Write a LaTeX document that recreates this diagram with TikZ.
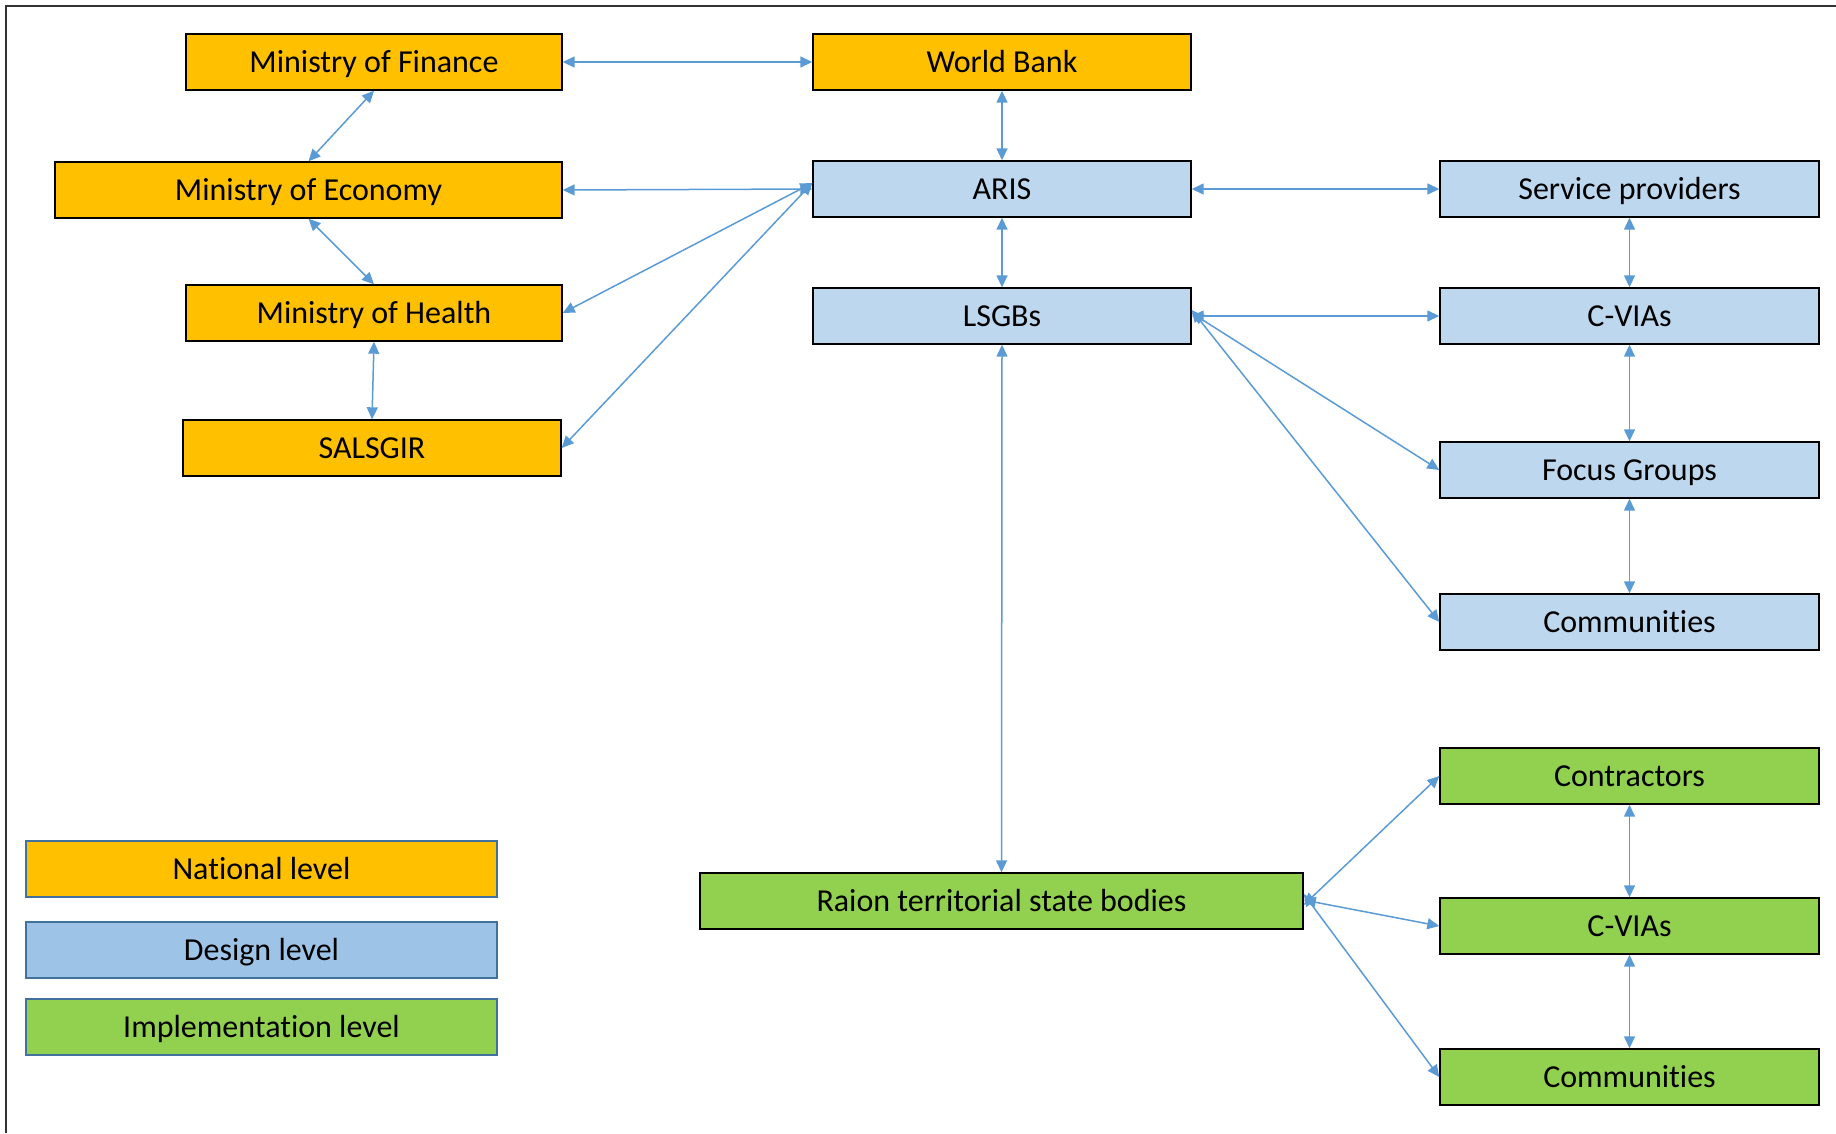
\documentclass[tikz,border=0pt]{standalone}
\usepackage{fontspec}
\setmainfont[Ligatures={NoCommon}]{Carlito}
\usetikzlibrary{arrows.meta,calc}
\definecolor{natc}{HTML}{FFC000}
\definecolor{desc}{HTML}{BDD7EE}
\definecolor{legdes}{HTML}{9DC3E6}
\definecolor{impc}{HTML}{92D050}
\definecolor{arrc}{HTML}{5B9BD5}
\definecolor{legborder}{HTML}{41719C}
\tikzset{
  box/.style={draw=black, line width=1.4pt, rectangle, inner sep=0pt, anchor=center,
    minimum height=56pt, text height=21pt, text depth=0pt,
    font=\fontsize{32}{36}\selectfont, text=black},
  nat/.style={box, fill=natc},
  des/.style={box, fill=desc},
  imp/.style={box, fill=impc},
  legbox/.style={box, draw=legborder, line width=1.6pt},
  conn/.style={draw=arrc, line width=1.5pt, {Triangle[length=12pt,width=11pt]}-{Triangle[length=12pt,width=11pt]}}
}
\begin{document}
\begin{tikzpicture}[x=1pt,y=-1pt]
\useasboundingbox (0,0) rectangle (1836,1133);
\draw[line width=1.3pt, black!80] (6,1133) -- (6,6) -- (1836,6);

% National level
\node[nat, minimum width=376pt] (mof) at (374,62) {Ministry of Finance};
\node[nat, minimum width=378pt] (wb) at (1002,62) {World Bank};
\node[nat, minimum width=507pt] (moe) at (308.5,190) {Ministry of Economy};
\node[nat, minimum width=376pt] (moh) at (374,313) {Ministry of Health};
\node[nat, minimum width=378pt] (sal) at (372,448) {SALSGIR};

% Design level
\node[des, minimum width=378pt] (aris) at (1002,189) {ARIS};
\node[des, minimum width=378pt] (lsgb) at (1002,316) {LSGBs};
\node[des, minimum width=379pt] (sp) at (1629.5,189) {Service providers};
\node[des, minimum width=379pt] (cv1) at (1629.5,316) {C-VIAs};
\node[des, minimum width=379pt] (fg) at (1629.5,470) {Focus Groups};
\node[des, minimum width=379pt] (com1) at (1629.5,622) {Communities};

% Implementation level
\node[imp, minimum width=603pt] (raion) at (1001.5,901) {Raion territorial state bodies};
\node[imp, minimum width=379pt] (contr) at (1629.5,776) {Contractors};
\node[imp, minimum width=379pt] (cv2) at (1629.5,926) {C-VIAs};
\node[imp, minimum width=379pt] (com2) at (1629.5,1077) {Communities};

% Legend
\node[legbox, fill=natc, minimum width=471pt] (lnat) at (261.5,869) {National level};
\node[legbox, fill=legdes, minimum width=471pt] (ldes) at (261.5,950) {Design level};
\node[legbox, fill=impc, minimum width=471pt] (limp) at (261.5,1027) {Implementation level};

% Connectors
\draw[conn] (mof.east) -- (wb.west);
\draw[conn] (wb.south) -- (aris.north);
\draw[conn] (mof.south) -- (moe.north);
\draw[conn] (moe.south) -- (moh.north);
\draw[conn] (moh.south) -- (sal.north);
\draw[conn] (moe.east) -- (aris.west);
\draw[conn] ([yshift=6pt]aris.west) -- (moh.east);
\draw[conn] ([yshift=6pt]aris.west) -- (sal.east);
\draw[conn] (aris.east) -- (sp.west);
\draw[conn] (aris.south) -- (lsgb.north);
\draw[conn] (sp.south) -- (cv1.north);
\draw[conn] (lsgb.east) -- (cv1.west);
\draw[conn] ([yshift=3pt]lsgb.east) -- (fg.west);
\draw[conn] ([yshift=6pt]lsgb.east) -- (com1.west);
\draw[conn] (cv1.south) -- (fg.north);
\draw[conn] (fg.south) -- (com1.north);
\draw[conn] (lsgb.south) -- (raion.north);
\draw[conn] ([yshift=-4pt]raion.east) -- (contr.west);
\draw[conn] ([yshift=1pt]raion.east) -- (cv2.west);
\draw[conn] ([yshift=7pt]raion.east) -- (com2.west);
\draw[conn] (contr.south) -- (cv2.north);
\draw[conn] (cv2.south) -- (com2.north);
\end{tikzpicture}
\end{document}
